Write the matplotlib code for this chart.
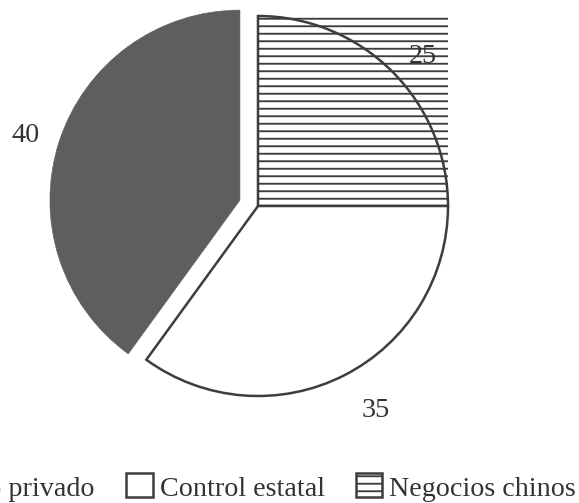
import matplotlib
matplotlib.use("Agg")
import matplotlib.pyplot as plt
from matplotlib.patches import Patch, Rectangle
import numpy as np

# Shares of each ownership type (percent)
categories = ["Negocio privado", "Control estatal", "Negocios chinos"]
values = [40, 35, 25]

# Draw order around the pie: clockwise from 12 o'clock
pie_order = [2, 1, 0]

plt.rcParams["font.family"] = ["Liberation Serif", "DejaVu Serif"]
plt.rcParams["hatch.linewidth"] = 1.5

DPI = 90
W, H = 579, 504
fig = plt.figure(figsize=(W / DPI, H / DPI), dpi=DPI)
fig.patch.set_facecolor("white")
ax = fig.add_axes([0, 0, 1, 1])

dark = "#5e5e5e"
edge = "#3d3d3d"
txt = "#333333"

face = {0: dark, 1: "white", 2: "white"}
hatch = {0: None, 1: None, 2: "--"}
explode_map = {0: 0.1, 1: 0.0, 2: 0.0}

vals = [values[i] for i in pie_order]
wedges, _ = ax.pie(
    vals,
    startangle=90,
    counterclock=False,
    explode=[explode_map[i] for i in pie_order],
    radius=1.0,
)

for w, i in zip(wedges, pie_order):
    w.set_facecolor(face[i])
    if i == 0:
        w.set_edgecolor(dark)
        w.set_linewidth(0.5)
    else:
        w.set_edgecolor(edge)
        w.set_linewidth(2.0)
    if hatch[i]:
        w.set_hatch(hatch[i])
    w.set_zorder(2)

# hatching of the Chinese-business slice fills its whole bounding square
hw = wedges[pie_order.index(2)]
bb = hw.get_path().get_extents()
ax.add_patch(Rectangle((bb.x0, bb.y0), bb.width, bb.height,
                       facecolor="white", edgecolor=edge, linewidth=0,
                       hatch="--", zorder=1))

# value labels placed outside each slice
label_dist = {0: 1.11, 1: 1.2, 2: 1.12}
for w, i in zip(wedges, pie_order):
    ang = np.deg2rad((w.theta1 + w.theta2) / 2)
    cx, cy = w.center
    d = label_dist[i]
    x = cx + d * np.cos(ang)
    y = cy + d * np.sin(ang)
    ax.text(x, y, str(values[i]), ha="left" if np.cos(ang) > 0 else "right",
            va="center", fontsize=22.5, color=txt, zorder=5)

# data window: pie centre and unit radius set in pixel terms
r_px = 190.0
cx_px, cy_px = 258.0, 207.0
ax.set_xlim(-cx_px / r_px, (W - cx_px) / r_px)
ax.set_ylim(-(H - cy_px) / r_px, cy_px / r_px)
ax.set_aspect("auto")
ax.axis("off")

handles = [
    Patch(facecolor=dark, edgecolor=dark, linewidth=1.2),
    Patch(facecolor="white", edgecolor=edge, linewidth=2.0),
    Patch(facecolor="white", edgecolor=edge, linewidth=2.0, hatch="--"),
]
leg = fig.legend(
    handles, categories, loc="lower right",
    bbox_to_anchor=(576 / W, 2 / H), bbox_transform=fig.transFigure,
    ncol=3, frameon=False, fontsize=22.5, borderpad=0, borderaxespad=0,
    handlelength=0.95, handleheight=0.95, handletextpad=0.25,
    columnspacing=1.1,
)
for t in leg.get_texts():
    t.set_color(txt)

fig.savefig("out.png", dpi=DPI, facecolor="white")
